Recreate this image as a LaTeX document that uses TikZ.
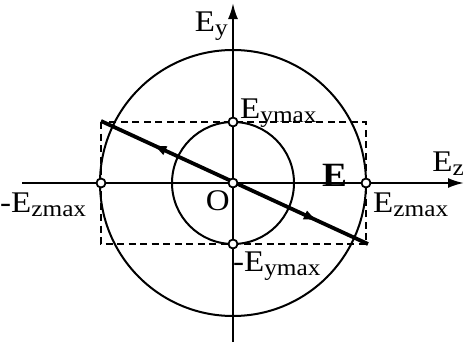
\documentclass[tikz,border=0pt]{standalone}
\usepackage{fontspec}
\setmainfont[FakeStretch=1.1]{Liberation Serif}
\usetikzlibrary{arrows.meta,decorations.markings}
\newcommand{\lblsub}[2]{#1\raisebox{-4pt}{\fontsize{23}{23}\selectfont #2}}
\begin{document}
\begin{tikzpicture}[x=1pt,y=-1pt,
  font=\fontsize{30}{30}\selectfont,
  axisline/.style={line width=2.2pt,-{Latex[length=16pt,width=10pt]}},
  circ/.style={line width=2pt},
  box/.style={line width=1.6pt,dash pattern=on 7pt off 4.5pt},
  vec/.style={line width=3.8pt,
    postaction={decorate,decoration={markings,
      mark=at position 0.19 with {\arrowreversed{Latex[length=15pt,width=10pt]}},
      mark=at position 0.815 with {\arrow{Latex[length=15pt,width=10pt]}}}}},
  dot/.style={circle,draw,fill=white,line width=1.8pt,inner sep=0pt,minimum size=9pt},
  lbl/.style={inner sep=0pt}]
\useasboundingbox (0,0) rectangle (464,343);
\coordinate (O) at (233,183);
\coordinate (xs) at (22,183);
\coordinate (xe) at (464,183);
\coordinate (ys) at (233,342);
\coordinate (ye) at (233,3);
\coordinate (c1) at (101,122);
\coordinate (c2) at (366,244);
\coordinate (vs) at (101,121);
\coordinate (ve) at (368,244);
% circles
\draw[circ] (O) circle[radius=133];
\draw[circ] (O) circle[radius=61];
% dashed box
\draw[box] (c1) rectangle (c2);
% axes
\draw[axisline] (xs) -- (xe);
\draw[axisline] (ys) -- (ye);
% vector
\draw[vec] (vs) -- (ve);
% dots
\node[dot] (pO) at (O) {};
\node[dot] (pyt) at (233,122) {};
\node[dot] (pyb) at (233,244) {};
\node[dot] (pzl) at (101,183) {};
\node[dot] (pzr) at (366,183) {};
% labels
\node[lbl,anchor=base east] (tEy) at (228,31) {\lblsub{E}{y}};
\node[lbl,anchor=base east] (tEz) at (464,171) {\lblsub{E}{z}};
\node[lbl,anchor=base west] (tEymax) at (240,118) {\lblsub{E}{ymax}};
\node[lbl,anchor=base west] (tmEzmax) at (0,212) {-\lblsub{E}{zmax}};
\node[lbl,anchor=base west] (tEzmax) at (373,212) {\lblsub{E}{zmax}};
\node[lbl,anchor=base west] (tmEymax) at (233,271) {-\lblsub{E}{ymax}};
\node[lbl,anchor=base east] (tO) at (230,210) {O};
\node[lbl,anchor=base west,font=\fontsize{34}{34}\selectfont\bfseries] (tE) at (322,186) {E};
\end{tikzpicture}
\end{document}
